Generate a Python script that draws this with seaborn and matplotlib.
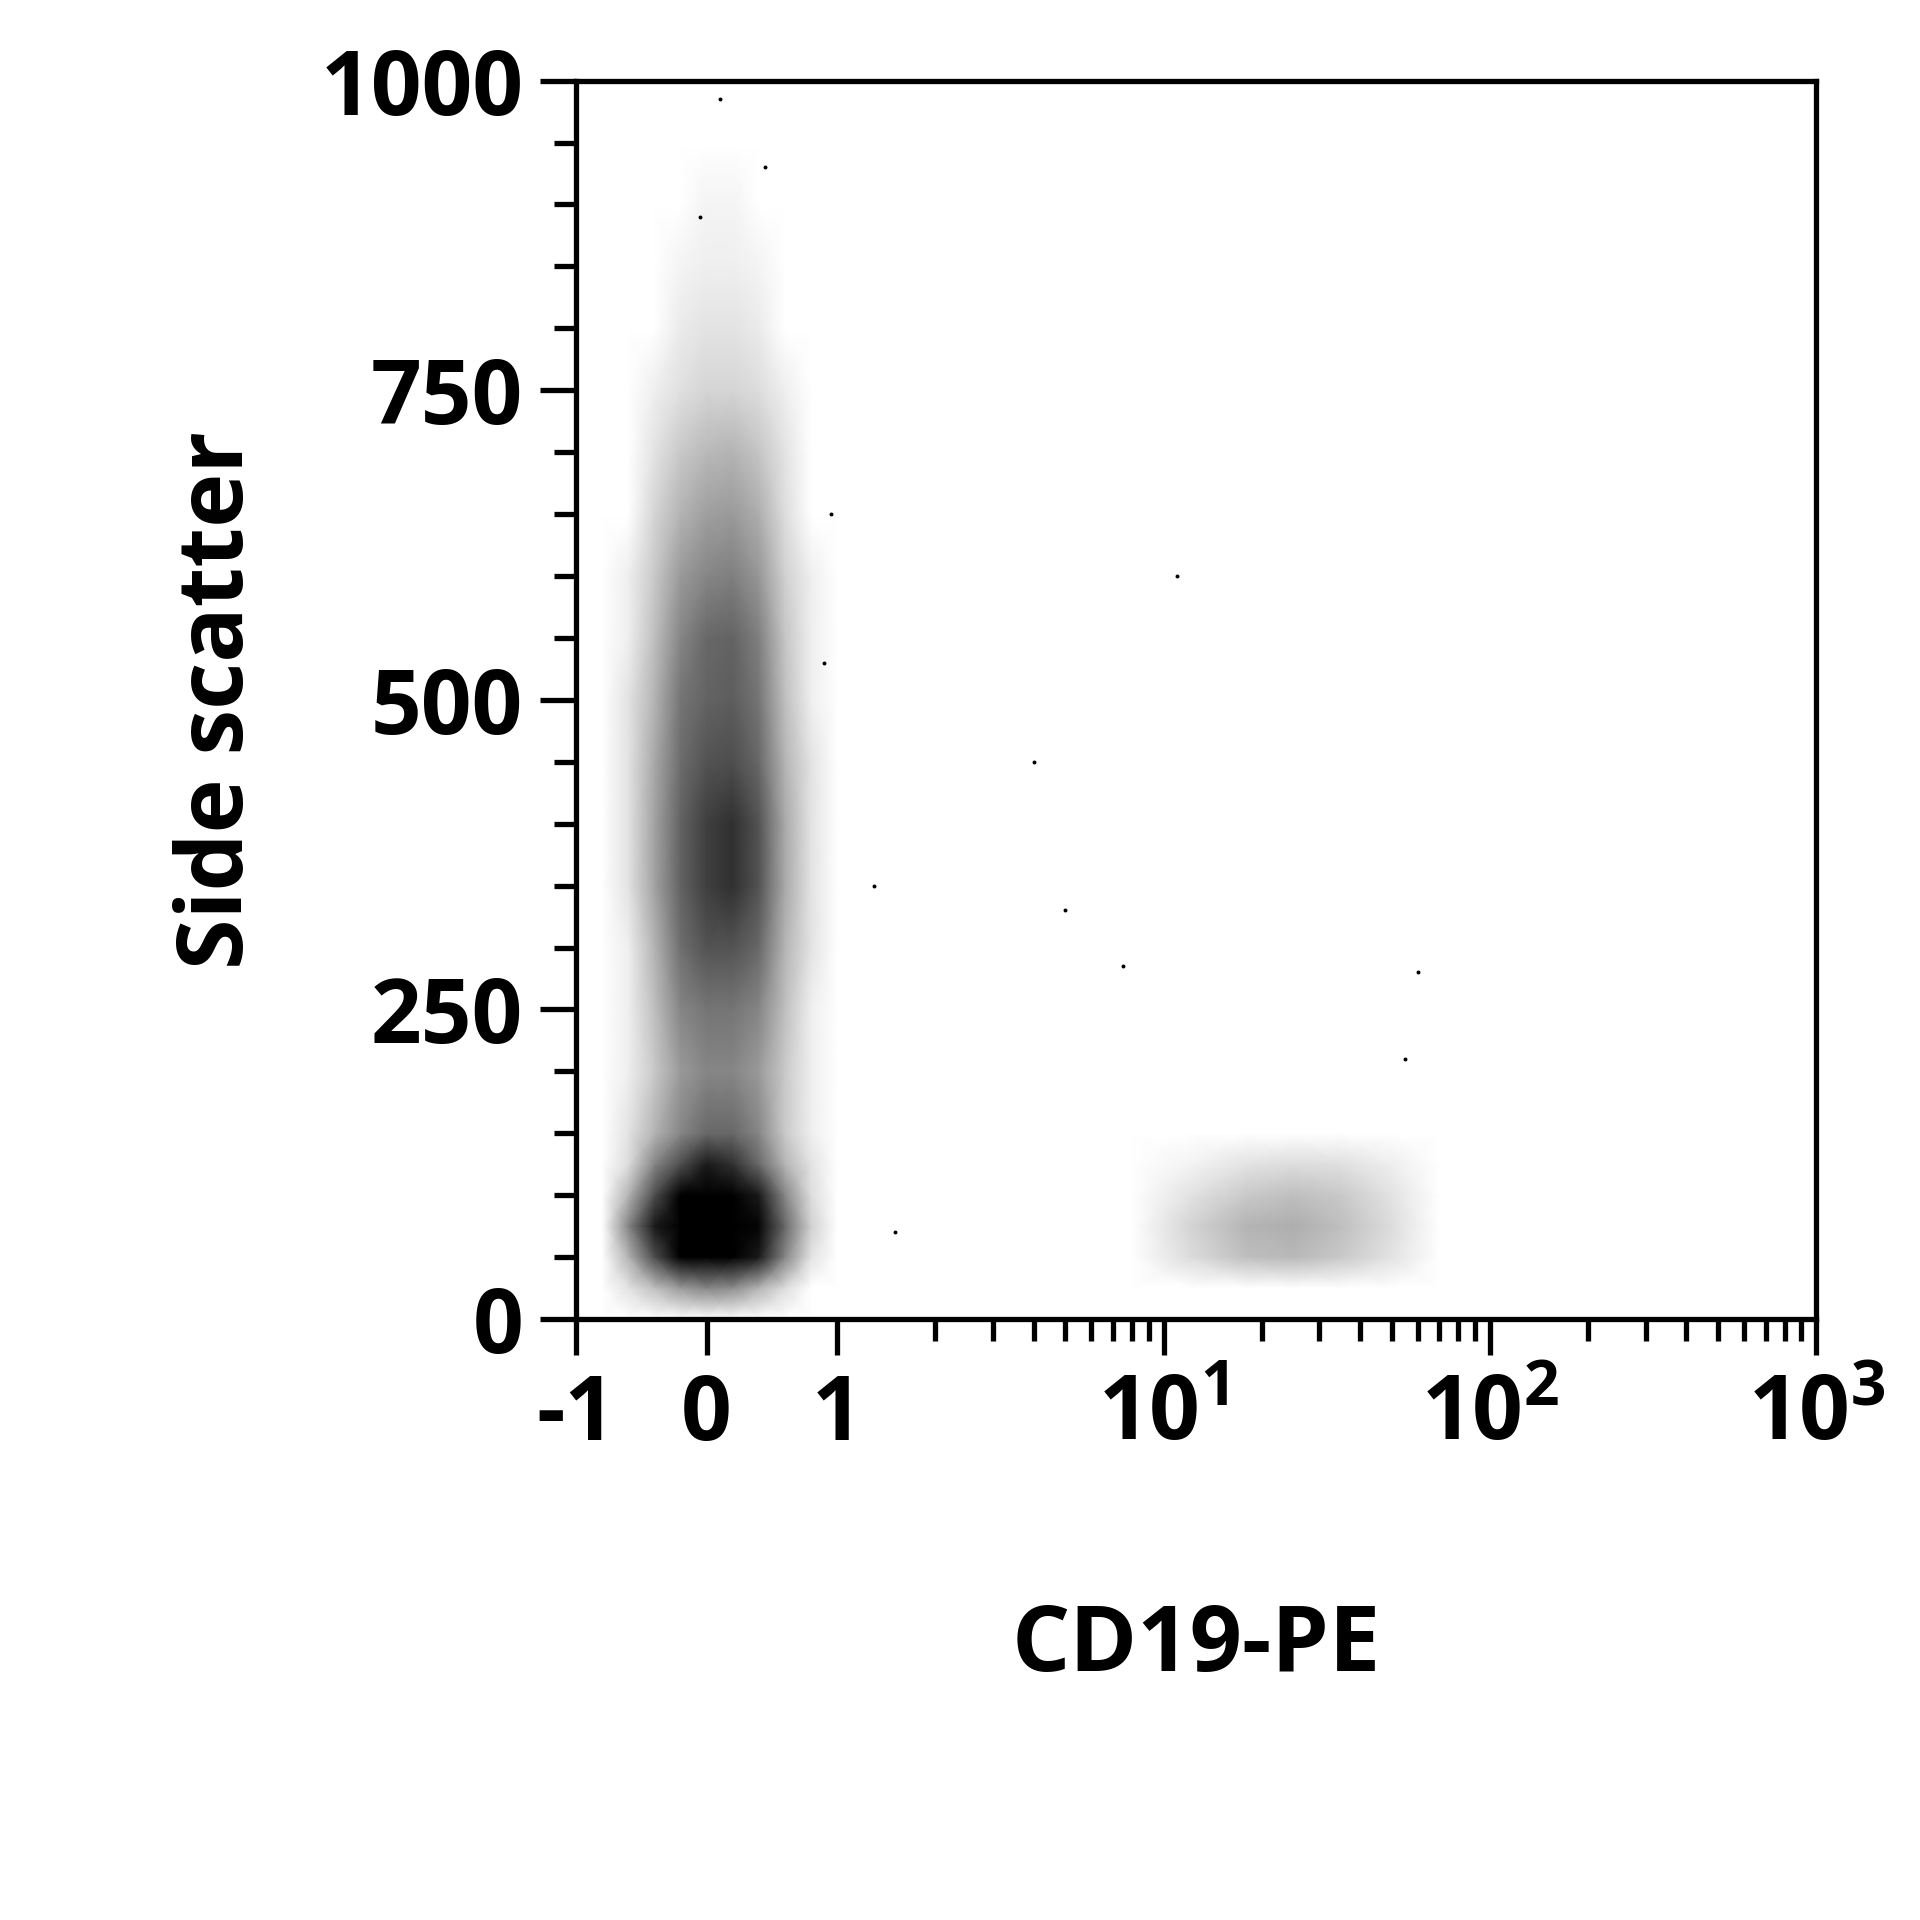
import numpy as np
import seaborn as sns
import matplotlib
matplotlib.use("Agg")
import matplotlib.pyplot as plt
from matplotlib.colors import ListedColormap

# --- data (relative event density on a grid) ---
main_x = [-0.6, -0.4, -0.2, 0.0, 0.2, 0.4, 0.6, 0.8]
main_y = [25, 50, 75, 100, 125, 150, 200, 250, 300, 350, 400, 450, 500, 550,
          600, 650, 700, 750, 800, 850, 900, 950]
main_density = [
    [0.2, 0.8, 1.5, 2, 1.8, 1, 0.3, 0],
    [1, 4, 8, 10, 9, 6, 2, 0.2],
    [2, 6, 10, 10, 10, 7, 3, 0.5],
    [1, 4, 8, 10, 9, 6, 2, 0.3],
    [0.3, 2, 4, 6, 5, 3, 1, 0.2],
    [0.2, 1, 2, 3, 3, 2, 0.6, 0.1],
    [0.1, 0.6, 1.5, 2, 2, 1.5, 0.6, 0.1],
    [0.1, 0.8, 2, 2.5, 2.5, 2, 0.8, 0.1],
    [0.1, 1, 2.7, 3.8, 3.8, 3, 1, 0.2],
    [0.2, 1.3, 3.2, 4.5, 5, 3.8, 1.2, 0.2],
    [0.2, 1.3, 3.2, 4.5, 5, 3.8, 1.2, 0.2],
    [0.2, 1.2, 2.8, 3.8, 4, 3, 1, 0.2],
    [0.2, 1, 2.5, 3.2, 3.4, 2.5, 0.8, 0.1],
    [0.1, 0.8, 2, 3, 3.2, 2.2, 0.7, 0.1],
    [0.1, 0.6, 1.5, 2, 2.2, 1.6, 0.5, 0.1],
    [0, 0.4, 1, 1.4, 1.5, 1.1, 0.3, 0],
    [0, 0.2, 0.6, 0.9, 1, 0.7, 0.2, 0],
    [0, 0.08, 0.25, 0.4, 0.4, 0.3, 0.08, 0],
    [0, 0.03, 0.12, 0.2, 0.2, 0.12, 0.03, 0],
    [0, 0.01, 0.06, 0.1, 0.1, 0.06, 0.01, 0],
    [0, 0, 0.03, 0.06, 0.06, 0.03, 0, 0],
    [0, 0, 0.01, 0.03, 0.03, 0.01, 0, 0],
]
bcell_x = [12, 18, 25, 35, 50]
bcell_y = [50, 75, 100, 125]
bcell_density = [
    [0.3, 0.8, 0.9, 0.6, 0.2],
    [0.4, 1.0, 1.1, 0.8, 0.3],
    [0.2, 0.6, 0.8, 0.6, 0.2],
    [0.05, 0.2, 0.3, 0.25, 0.1],
]
outlier_x = [4.0, 5.0, 7.5, 11.0, 1.5, 60, 55, 1.3, 0.95, 0.9, 0.1, -0.05, 0.45]
outlier_y = [450, 330, 285, 600, 70, 280, 210, 350, 650, 530, 985, 890, 930]

x_ticks = [-1, 0, 1, 10, 100, 1000]
x_tick_labels = ["-1", "0", "1", "$\\mathregular{10^1}$", "$\\mathregular{10^2}$", "$\\mathregular{10^3}$"]
y_ticks = [0, 250, 500, 750, 1000]


def fwd(x):
    x = np.asarray(x, dtype=float)
    return np.where(x <= 1, x, 1 + 2.5 * np.log10(np.maximum(x, 1e-9)))


# assemble one rectangular grid (zero padding around the two populations)
grid_x = [-0.8] + main_x + [1.0, 3.0, 8.0] + bcell_x + [70, 1000]
grid_y = [0] + main_y + [1000]
Z = np.zeros((len(grid_y), len(grid_x)))
for i, yv in enumerate(main_y):
    for j, xv in enumerate(main_x):
        Z[grid_y.index(yv), grid_x.index(xv)] = main_density[i][j]
for i, yv in enumerate(bcell_y):
    for j, xv in enumerate(bcell_x):
        Z[grid_y.index(yv), grid_x.index(xv)] = bcell_density[i][j]

U, Y = np.meshgrid(fwd(grid_x), np.array(grid_y, dtype=float))

greys = plt.get_cmap("Greys")
cmap = ListedColormap(greys(np.clip(np.linspace(0, 1, 256) ** 0.45 * 1.15, 0, 1)))

sns.set_style("white")
plt.rcParams["font.family"] = ["Open Sans", "DejaVu Sans"]

fig = plt.figure(figsize=(19.2, 19.2), dpi=100)
ax = fig.add_axes([0.30, 0.313, 0.646, 0.645])

ax.pcolormesh(U, Y, Z, shading="gouraud", cmap=cmap, vmin=0, vmax=10,
              rasterized=True)
sns.scatterplot(x=fwd(outlier_x), y=outlier_y, s=8, color="black",
                linewidth=0, ax=ax)

ax.set_xlim(-1, 8.5)
ax.set_ylim(0, 1000)
ax.set_xticks(fwd(x_ticks))
ax.set_xticklabels(x_tick_labels)
minor = []
for d in [1, 10, 100]:
    for k in range(2, 10):
        minor.append(d * k)
ax.set_xticks(fwd(minor), minor=True)
ax.set_yticks(y_ticks)
ax.set_yticks(np.arange(0, 1001, 50), minor=True)

for s in ax.spines.values():
    s.set_linewidth(3.8)
    s.set_color("black")
ax.tick_params(which="major", direction="out", length=26, width=3.8,
               labelsize=64, pad=12, bottom=True, left=True, colors="black")
ax.tick_params(which="minor", direction="out", length=16, width=3.8,
               bottom=True, left=True, colors="black")
for lab in ax.get_xticklabels() + ax.get_yticklabels():
    lab.set_fontweight("bold")

ax.set_xlabel("CD19-PE", fontsize=66, fontweight="bold", labelpad=100, color="black")
ax.set_ylabel("Side scatter", fontsize=66, fontweight="bold", labelpad=40, color="black")

fig.savefig("out.png", dpi=100, facecolor="white")
